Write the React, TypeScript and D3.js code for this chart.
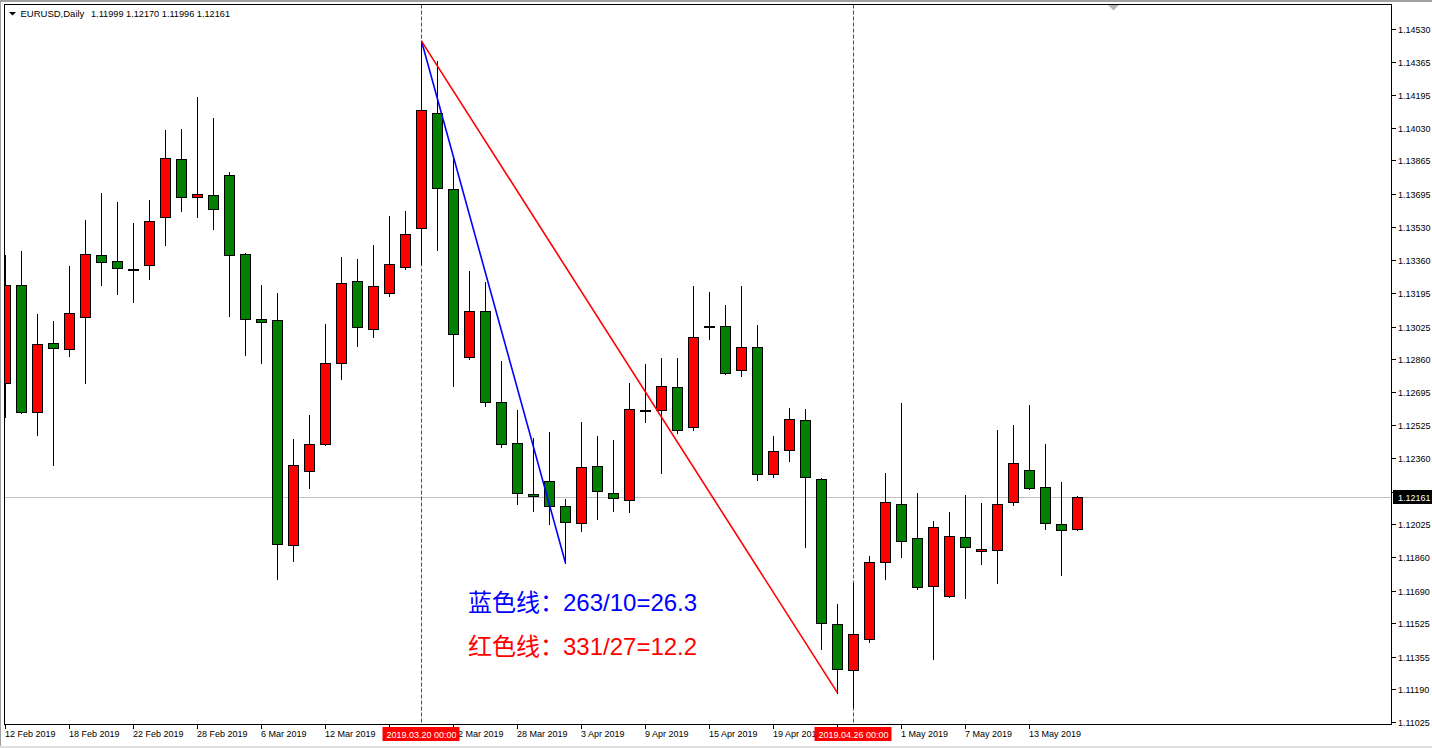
import React from "react";
import * as d3 from "d3";

const symbolTitle = "EURUSD,Daily";
const headerValues = "1.11999 1.12170 1.11996 1.12161";

const opens = [1.12740,1.13235,1.12593,1.12942,1.12912,1.13073,1.13387,1.13357,1.13311,1.13336,
1.13579,1.13873,1.13680,1.13690,1.13792,1.13392,1.13061,1.13058,1.11920,1.12295,
1.12431,1.12841,1.13256,1.13013,1.13195,1.13326,1.13524,1.14105,1.13721,1.12871,
1.13104,1.12644,1.12436,1.12178,1.12244,1.12118,1.12032,1.12320,1.12183,1.12148,
1.12598,1.12603,1.12719,1.12517,1.13023,1.13028,1.12805,1.12922,1.12279,1.12401,
1.12552,1.12254,1.11521,1.11288,1.11445,1.11834,1.12128,1.11956,1.11713,1.11662,
1.11961,1.11890,1.11895,1.12138,1.12300,1.12214,1.12026,1.11999];

const closes = [1.13235,1.12593,1.12937,1.12917,1.13094,1.13392,1.13352,1.13321,1.13311,1.13559,
1.13878,1.13680,1.13696,1.13620,1.13387,1.13063,1.13048,1.11925,1.12325,1.12431,
1.12841,1.13245,1.13023,1.13230,1.13341,1.13493,1.14120,1.13726,1.12987,1.13104,
1.12644,1.12431,1.12183,1.12168,1.12118,1.12037,1.12315,1.12193,1.12158,1.12608,
1.12598,1.12724,1.12502,1.12972,1.13023,1.12790,1.12922,1.12279,1.12396,1.12558,
1.12264,1.11526,1.11293,1.11470,1.11834,1.12138,1.11941,1.11708,1.12011,1.11966,
1.11910,1.11900,1.12128,1.12335,1.12209,1.12032,1.11996,1.12161];

const highs = [1.13387,1.13407,1.13089,1.13053,1.13331,1.13564,1.13701,1.13655,1.13549,1.13665,
1.14019,1.14024,1.14186,1.14080,1.13807,1.13397,1.13235,1.13195,1.12456,1.12578,
1.13038,1.13377,1.13367,1.13438,1.13584,1.13610,1.14469,1.14368,1.13873,1.13306,
1.13250,1.12851,1.12603,1.12461,1.12492,1.12153,1.12542,1.12472,1.12451,1.12740,
1.12836,1.12866,1.12866,1.13230,1.13200,1.13134,1.13230,1.13033,1.12472,1.12613,
1.12608,1.12259,1.11622,1.11728,1.11865,1.12284,1.12638,1.12183,1.12042,1.12087,
1.12173,1.12133,1.12502,1.12527,1.12628,1.12431,1.12239,1.12170];

const lows = [1.12568,1.12588,1.12477,1.12325,1.12876,1.12740,1.13235,1.13190,1.13149,1.13266,
1.13438,1.13610,1.13579,1.13518,1.13078,1.12881,1.12841,1.11748,1.11839,1.12209,
1.12426,1.12760,1.12927,1.12972,1.13180,1.13316,1.13341,1.13412,1.12724,1.12861,
1.12623,1.12416,1.12128,1.12092,1.12026,1.11829,1.11991,1.12052,1.12092,1.12087,
1.12542,1.12284,1.12487,1.12502,1.12962,1.12785,1.12775,1.12249,1.12264,1.12345,
1.11910,1.11394,1.11172,1.11101,1.11430,1.11748,1.11860,1.11698,1.11344,1.11657,
1.11652,1.11824,1.11728,1.12123,1.12204,1.12001,1.11769,1.11996];

const priceTicks = [1.14530,1.14365,1.14195,1.14030,1.13865,1.13695,1.13530,1.13360,1.13195,1.13025,
1.12860,1.12695,1.12525,1.12360,1.12190,1.12025,1.11860,1.11690,1.11525,1.11355,1.11190,1.11025];

const dateTickIdx = [0,4,8,12,16,20,24,28,32,36,40,44,48,52,56,60,64];
const dateTickLabels = ["12 Feb 2019","18 Feb 2019","22 Feb 2019","28 Feb 2019","6 Mar 2019","12 Mar 2019",
"18 Mar 2019","22 Mar 2019","28 Mar 2019","3 Apr 2019","9 Apr 2019","15 Apr 2019","19 Apr 2019",
"25 Apr 2019","1 May 2019","7 May 2019","13 May 2019"];

const markerIdx = [26, 53];
const markerLabels = ["2019.03.20 00:00", "2019.04.26 00:00"];

const currentPrice = 1.12161;
const currentLabel = "1.12161";

const blueLine = [{ i: 26, p: 1.14469 }, { i: 35, p: 1.11829 }];
const redLine = [{ i: 26, p: 1.14469 }, { i: 52, p: 1.11172 }];

const blueTextCn = "蓝色线：";
const blueTextNum = "263/10=26.3";
const redTextCn = "红色线：";
const redTextNum = "331/27=12.2";

const W = 1432;
const H = 748;
const L = 4.5, T = 4.5, R = 1391.5, B = 724.5;
const FONT = "'Liberation Sans', Arial, sans-serif";
const CJK = "'Noto Sans CJK SC', sans-serif";

export default function App() {
  const x = d3.scaleLinear().domain([0, 67]).range([5, 1077]);
  const y = d3.scaleLinear().domain([1.11025, 1.1453]).range([722, 29]);
  const line = d3.line<{ i: number; p: number }>().x(d => x(d.i) + 0.5).y(d => y(d.p));

  const candles = opens.map((o, i) => ({ o, c: closes[i], h: highs[i], l: lows[i], i }));
  const py = Math.round(y(currentPrice)) + 0.5;

  return (
    <div style={{ position: "absolute", left: 0, top: 0, width: W, height: H, background: "#fff" }}>
      <svg width={W} height={H} style={{ display: "block" }}>
        <defs>
          <clipPath id="plot">
            <rect x={L} y={T} width={R - L} height={B - T} />
          </clipPath>
        </defs>
        <rect x={0} y={0} width={W} height={H} fill="#ffffff" />
        <rect x={0} y={0} width={W} height={2} fill="#a0a0a0" />
        <rect x={0} y={0} width={1} height={H} fill="#a0a0a0" />
        <rect x={0} y={746} width={W} height={2} fill="#e0e0e0" />

        <g clipPath="url(#plot)">
          <line x1={L} x2={R} y1={py} y2={py} stroke="#c0c0c0" strokeWidth={1} />
          {markerIdx.map((mi, k) => (
            <line key={k} x1={x(mi) + 0.5} x2={x(mi) + 0.5} y1={T} y2={B}
              stroke="#ff0000" strokeWidth={1} strokeDasharray="4,2" />
          ))}
          <g shapeRendering="crispEdges">
            {candles.map(d => {
              const cx = Math.round(x(d.i));
              const yh = Math.round(y(d.h));
              const yl = Math.round(y(d.l));
              const yo = Math.round(y(d.o));
              const yc = Math.round(y(d.c));
              const top = Math.min(yo, yc);
              const bot = Math.max(yo, yc);
              const up = d.c > d.o;
              return (
                <g key={d.i}>
                  <line x1={cx + 0.5} x2={cx + 0.5} y1={yh} y2={yl + 1} stroke="#000" strokeWidth={1} />
                  {bot - top < 1 ? (
                    <rect x={cx - 5} y={top - 1} width={11} height={2} fill="#000" />
                  ) : (
                    <rect x={cx - 4.5} y={top + 0.5} width={10} height={bot - top}
                      fill={up ? "#ff0000" : "#008000"} stroke="#000" strokeWidth={1} />
                  )}
                </g>
              );
            })}
          </g>
          <path d={line(blueLine) || ""} fill="none" stroke="#0000ff" strokeWidth={1.6} />
          <path d={line(redLine) || ""} fill="none" stroke="#ff0000" strokeWidth={1.6} />

          <text x={468} y={611} fontSize={24} fill="#0000ff">
            <tspan fontFamily={CJK}>{blueTextCn}</tspan>
            <tspan x={563} fontFamily={FONT}>{blueTextNum}</tspan>
          </text>
          <text x={468} y={655} fontSize={24} fill="#ff0000">
            <tspan fontFamily={CJK}>{redTextCn}</tspan>
            <tspan x={563} fontFamily={FONT}>{redTextNum}</tspan>
          </text>
        </g>

        <path d="M1108,5 L1119,5 L1113.5,10.5 Z" fill="#b4b4b4" />

        <rect x={L} y={T} width={R - L} height={B - T} fill="none" stroke="#000" strokeWidth={1} shapeRendering="crispEdges" />

        <path d="M9,12 L16,12 L12.5,15.5 Z" fill="#000" />
        <text x={20.5} y={16.5} fontSize={9.5} fontFamily={FONT} fill="#000">{symbolTitle}</text>
        <text x={91} y={16.5} fontSize={9.5} fontFamily={FONT} fill="#000" textLength={139} lengthAdjust="spacingAndGlyphs">{headerValues}</text>

        <g shapeRendering="crispEdges">
          {priceTicks.map((p, k) => {
            const ty = Math.round(y(p)) + 0.5;
            return <line key={k} x1={R} x2={R + 4} y1={ty} y2={ty} stroke="#000" />;
          })}
        </g>
        {priceTicks.map((p, k) => (
          <text key={k} x={1398} y={Math.round(y(p)) + 3.5} fontSize={9} fontFamily={FONT} fill="#000">
            {p.toFixed(5)}
          </text>
        ))}
        <rect x={1393} y={py - 7.5} width={39} height={14} fill="#000" />
        <text x={1398} y={py + 3} fontSize={9} fontFamily={FONT} fill="#fff">{currentLabel}</text>

        <g shapeRendering="crispEdges">
          {dateTickIdx.map((di, k) => (
            <line key={k} x1={x(di) + 0.5} x2={x(di) + 0.5} y1={B} y2={B + 4} stroke="#000" />
          ))}
        </g>
        {dateTickIdx.map((di, k) => (
          <text key={k} x={x(di)} y={737} fontSize={9} fontFamily={FONT} fill="#000">
            {dateTickLabels[k]}
          </text>
        ))}
        {markerIdx.map((mi, k) => (
          <g key={k}>
            <rect x={x(mi) - 38.5} y={727} width={77} height={14} fill="#ff0000" />
            <text x={x(mi) + 0.5} y={737.5} fontSize={9} fontFamily={FONT} fill="#fff" textAnchor="middle">
              {markerLabels[k]}
            </text>
          </g>
        ))}
      </svg>
    </div>
  );
}
